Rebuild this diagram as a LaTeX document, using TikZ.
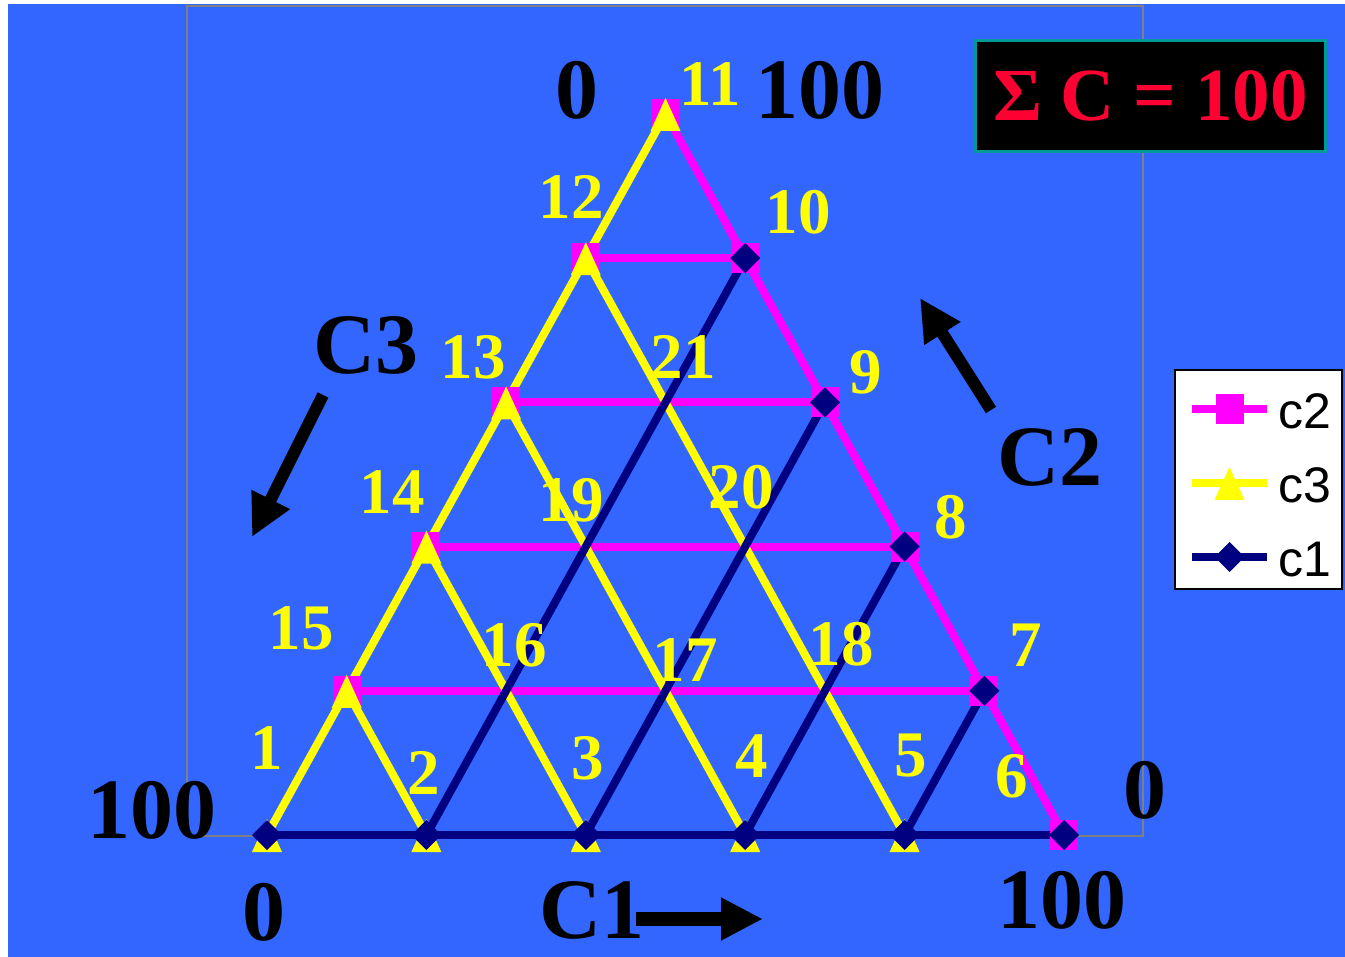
\documentclass[tikz,border=0pt]{standalone}
\usepackage{fontspec}
\setmainfont{Liberation Serif}
\newfontfamily\legfont{Liberation Sans}
\usetikzlibrary{arrows.meta,calc}
\definecolor{bgblue}{HTML}{3366FF}
\definecolor{cmag}{HTML}{FF00FF}
\definecolor{cyel}{HTML}{FFFF00}
\definecolor{cnavy}{HTML}{000080}
\definecolor{cred}{HTML}{FF0033}
\definecolor{cteal}{HTML}{009999}
\definecolor{cgray}{HTML}{808080}
\tikzset{
  c2line/.style={draw=cmag,line width=8pt},
  c3line/.style={draw=cyel,line width=8pt},
  c1line/.style={draw=cnavy,line width=8pt},
  numlab/.style={text=cyel,inner sep=0pt,font=\fontsize{65}{65}\selectfont\bfseries},
  biglab/.style={text=black,inner sep=0pt,font=\fontsize{86}{86}\selectfont\bfseries},
  legtext/.style={text=black,inner sep=0pt,anchor=west,font=\fontsize{50}{50}\selectfont\legfont},
  bigarrow/.style={draw=black,line width=12pt,-{Triangle[length=42pt,width=40pt]}},
  pics/sq/.style={code={\fill[cmag] (-14,-15) rectangle (14,15);}},
  pics/tri/.style={code={\fill[cyel] (-15,17) -- (15,17) -- (0,-16) -- cycle;}},
  pics/dia/.style={code={\fill[cnavy] (-15,0) -- (0,-15) -- (15,0) -- (0,15) -- cycle;}},
}
\begin{document}
\begin{tikzpicture}[x=1pt,y=-1pt]
\useasboundingbox (0,0) rectangle (1345,957);
\fill[white] (0,0) rectangle (1345,957);
\fill[bgblue] (8,4) rectangle (1345,957);
\draw[cgray,line width=2pt] (187,6) rectangle (1143,836);
% grid points
\foreach \a in {0,...,5}{\foreach \b in {0,...,5}{
  \coordinate (p\a\b) at ({267+159.4*\a+79.7*\b},{835-144.2*\b});
}}
% c2 lines
\draw[c2line] (p50) -- (p05);
\foreach \b in {1,...,4}{\pgfmathtruncatemacro\e{5-\b}\draw[c2line] (p0\b) -- (p\e\b);}
% c3 lines
\draw[c3line] (p00) -- (p05);
\foreach \b in {1,...,4}{\draw[c3line] (p0\b) -- (p\b0);}
% c1 lines
\draw[c1line] (p00) -- (p50);
\foreach \a in {1,...,4}{\pgfmathtruncatemacro\e{5-\a}\draw[c1line] (p\a0) -- (p\a\e);}
% markers
\foreach \b in {1,...,5}{\pic at (p0\b) {sq};}
\foreach \a/\b in {5/0,4/1,3/2,2/3,1/4}{\pic at (p\a\b) {sq};}
\foreach \b in {0,...,5}{\pic at (p0\b) {tri};}
\foreach \a in {1,...,4}{\pic at (p\a0) {tri};}
\foreach \a in {0,...,5}{\pic at (p\a0) {dia};}
\foreach \a/\b in {4/1,3/2,2/3,1/4}{\pic at (p\a\b) {dia};}
% yellow number labels
\foreach \t/\x/\y in {1/267/748,2/424/773,3/588/758,4/752/756,5/911/756,6/1012/776,7/1026/645,8/951/517,9/866/372,10/798/212,11/710/84,12/571/197,13/473/357,14/392/492,15/301/628,16/514/645,17/685/660,18/841/644,19/571/500,20/741/487,21/683/357}{
  \node[numlab] (n\t) at (\x,\y) {\t};
}
% black labels
\node[biglab] (ztop) at (577,90) {0};
\node[biglab] (htop) at (820,90) {100};
\node[biglab] (hleft) at (152,810) {100};
\node[biglab] (zbot) at (264,912) {0};
\node[biglab] (cone) at (592,910) {C1};
\node[biglab] (hbr) at (1062,900) {100};
\node[biglab] (zright) at (1145,790) {0};
\node[biglab] (cthree) at (366,345) {C3};
\node[biglab] (ctwo) at (1050,457) {C2};
% arrows
\coordinate (a1s) at (636,919); \coordinate (a1e) at (763,919);
\coordinate (a3s) at (323,395); \coordinate (a3e) at (252,537);
\coordinate (a2s) at (991,410); \coordinate (a2e) at (920,298);
\draw[bigarrow,line width=14pt] (a1s) -- (a1e);
\draw[bigarrow] (a3s) -- (a3e);
\draw[bigarrow] (a2s) -- (a2e);
% sum box
\node[fill=black,draw=cteal,line width=3pt,minimum width=350pt,minimum height=111pt,inner sep=0pt,text=cred,text depth=0pt,font=\fontsize{75}{75}\selectfont\bfseries] (sumbox) at (1150.5,96) {Σ C = 100};
% legend
\node[fill=white,draw=black,line width=2pt,minimum width=167pt,minimum height=219pt,inner sep=0pt] (legend) at (1258.5,479.5) {};
\coordinate (l2a) at (1192,409); \coordinate (l2b) at (1267,409);
\coordinate (l3a) at (1192,483); \coordinate (l3b) at (1267,483);
\coordinate (l1a) at (1192,557); \coordinate (l1b) at (1267,557);
\draw[c2line] (l2a) -- (l2b); \pic at ($(l2a)!0.5!(l2b)$) {sq};
\draw[c3line] (l3a) -- (l3b); \pic at ($(l3a)!0.5!(l3b)$) {tri};
\draw[c1line] (l1a) -- (l1b); \pic at ($(l1a)!0.5!(l1b)$) {dia};
\node[legtext] (t2) at (1278,411) {c2};
\node[legtext] (t3) at (1278,485) {c3};
\node[legtext] (t1) at (1278,560) {c1};
\end{tikzpicture}
\end{document}
